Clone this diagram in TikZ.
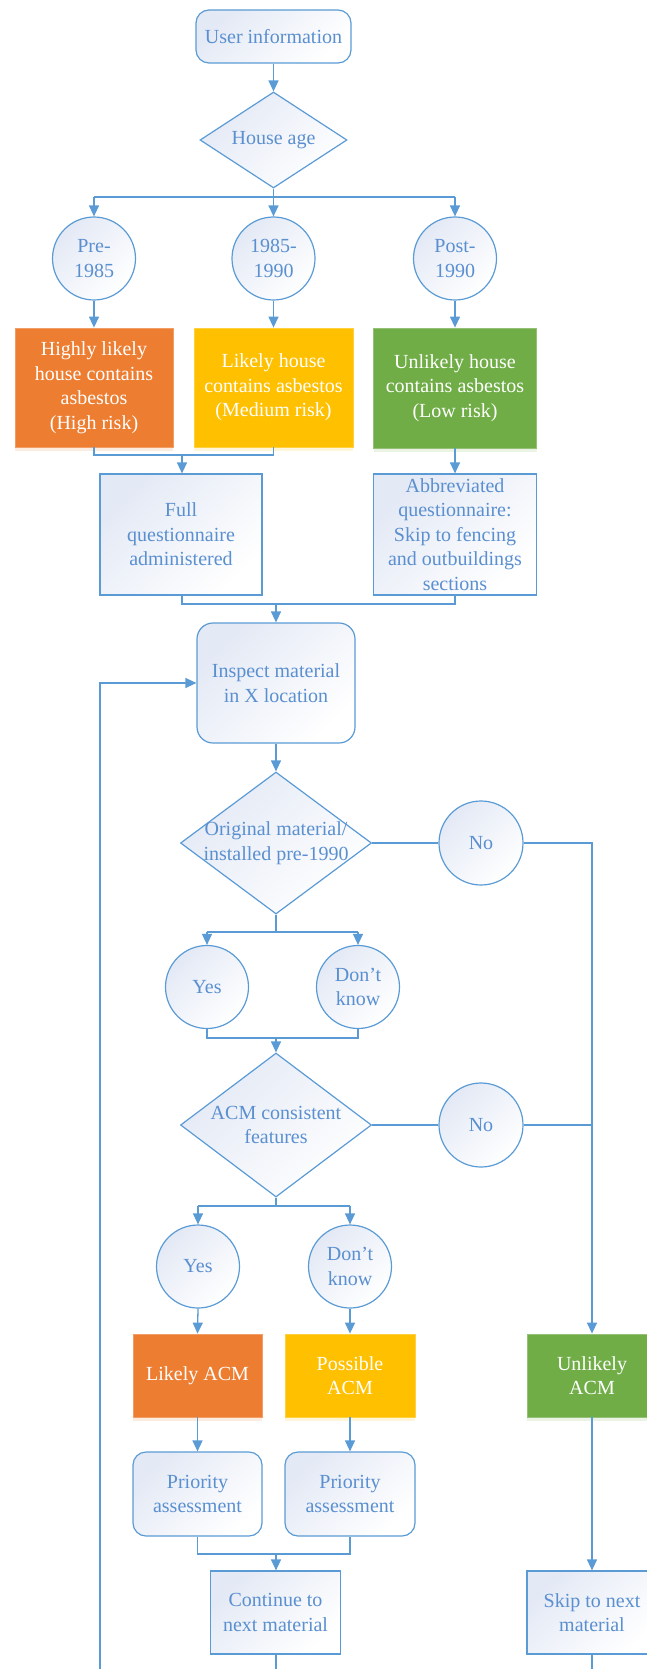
\documentclass[tikz,border=0pt]{standalone}
\usepackage{fontspec}
\setmainfont{Liberation Serif}
\usetikzlibrary{shapes.geometric,arrows.meta,shadows}
\definecolor{lineblue}{HTML}{5B9BD5}
\definecolor{textblue}{HTML}{5A8FD0}
\definecolor{gradc}{HTML}{E3E9F5}
\definecolor{corange}{HTML}{ED7D31}
\definecolor{cyellow}{HTML}{FFC000}
\definecolor{cgreen}{HTML}{70AD47}
\tikzset{
  txt/.style={font=\fontsize{20}{24.5}\selectfont, text=textblue, align=center},
  shadedfill/.style={top color=gradc, bottom color=white, shading angle=45},
  plainbox/.style={txt, draw=lineblue, line width=1.2pt, shadedfill, inner sep=2pt},
  roundbox/.style={plainbox, rounded corners=13pt},
  ellnode/.style={txt, circle, draw=lineblue, line width=1.2pt, shadedfill, minimum size=83pt, inner sep=0pt},
  dia/.style={diamond, draw=lineblue, line width=1.2pt, shadedfill, inner sep=0pt},
  colbox/.style={txt, text=white, draw=#1!75!white, line width=0.8pt, fill=#1, inner sep=2pt,
     drop shadow={shadow xshift=0pt, shadow yshift=-4pt, opacity=0.15, fill=#1}},
  conn/.style={draw=lineblue, line width=1.3pt},
  arr/.style={conn, -{Triangle[length=11pt,width=10pt]}},
}
\begin{document}
\begin{tikzpicture}[x=1pt,y=-1pt]
\useasboundingbox (0,0) rectangle (647,1669);
\clip (0,0) rectangle (647,1669);
% nodes
\node[roundbox, minimum width=155pt, minimum height=53pt] (user) at (273.5,36.5) {User information};
\node[dia, minimum width=147pt, minimum height=96pt, label={[txt]center:House age}] (age) at (273.5,140) {};
\node[ellnode] (pre) at (94,258.5) {Pre-\\1985};
\node[ellnode] (mid) at (273.5,258.5) {1985-\\1990};
\node[ellnode] (post) at (455,258.5) {Post-\\1990};
\node[colbox=corange, minimum width=158pt, minimum height=119pt] (high) at (94,387.5) {Highly likely\\house contains\\asbestos\\(High risk)};
\node[colbox=cyellow, minimum width=159pt, minimum height=119pt] (med) at (273.5,387.5) {Likely house\\contains asbestos\\(Medium risk)};
\node[colbox=cgreen, minimum width=163pt, minimum height=120pt] (low) at (455,388) {Unlikely house\\contains asbestos\\(Low risk)};
\node[plainbox, minimum width=162pt, minimum height=121pt] (full) at (181,534.5) {Full\\questionnaire\\administered};
\node[plainbox, minimum width=163pt, minimum height=121pt, inner sep=0pt] (abbr) at (455,534.5) {Abbreviated\\questionnaire:\\Skip to fencing\\and outbuildings\\sections};
\node[roundbox, rounded corners=16pt, minimum width=158pt, minimum height=120pt] (insp) at (276,683) {Inspect material\\in X location};
\node[dia, minimum width=191pt, minimum height=142pt, label={[txt]center:Original material/\\installed pre-1990}] (orig) at (276,843) {};
\node[ellnode, minimum size=84pt] (noa) at (481,843) {No};
\node[ellnode] (yesa) at (207,987) {Yes};
\node[ellnode] (dka) at (358,987) {Don’t\\know};
\node[dia, minimum width=191pt, minimum height=144pt, label={[txt]center:ACM consistent\\features}] (acm) at (276,1125) {};
\node[ellnode, minimum size=84pt] (nob) at (481,1125) {No};
\node[ellnode] (yesb) at (198,1266.5) {Yes};
\node[ellnode] (dkb) at (350,1266.5) {Don’t\\know};
\node[colbox=corange, minimum width=129pt, minimum height=83pt] (likely) at (197.5,1375.5) {Likely ACM};
\node[colbox=cyellow, minimum width=130pt, minimum height=83pt] (possible) at (350,1375.5) {Possible\\ACM};
\node[colbox=cgreen, minimum width=130pt, minimum height=83pt] (unlikely) at (592,1375.5) {Unlikely\\ACM};
\node[roundbox, minimum width=129pt, minimum height=84pt] (prioa) at (197.5,1494) {Priority\\assessment};
\node[roundbox, minimum width=130pt, minimum height=84pt] (priob) at (350,1494) {Priority\\assessment};
\node[plainbox, minimum width=130pt, minimum height=83pt] (cont) at (275.5,1612.5) {Continue to\\next material};
\node[plainbox, minimum width=130pt, minimum height=83pt] (skip) at (592,1612.5) {Skip to next\\material};
% helper coordinates
\coordinate (agejoin) at (273.5,197);
\coordinate (hmjoin) at (182,455);
\coordinate (fajoin) at (276,604);
\coordinate (origjoin) at (276,932);
\coordinate (yadjoin) at (276,1038);
\coordinate (acmjoin) at (276,1206);
\coordinate (priojoin) at (276,1554);
\coordinate (loopbot) at (100,1680);
% connectors
\draw[arr] (user.south) -- (age.north);
\draw[conn] (age.south) -- (agejoin);
\draw[conn] (pre.north |- agejoin) -- (post.north |- agejoin);
\draw[arr] (pre.north |- agejoin) -- (pre.north);
\draw[arr] (agejoin) -- (mid.north);
\draw[arr] (post.north |- agejoin) -- (post.north);
\draw[arr] (pre.south) -- (high.north);
\draw[arr] (mid.south) -- (med.north);
\draw[arr] (post.south) -- (low.north);
\draw[conn] (high.south) |- (hmjoin) -| (med.south);
\draw[arr] (hmjoin) -- (full.north -| hmjoin);
\draw[arr] (low.south) -- (abbr.north);
\draw[conn] (full.south -| hmjoin) |- (fajoin) -| (abbr.south);
\draw[arr] (fajoin) -- (insp.north);
\draw[arr] (insp.south) -- (orig.north);
\draw[conn] (orig.east) -- (noa.west);
\draw[arr] (noa.east) -| (unlikely.north);
\draw[conn] (orig.south) -- (origjoin);
\draw[conn] (yesa.north |- origjoin) -- (dka.north |- origjoin);
\draw[arr] (yesa.north |- origjoin) -- (yesa.north);
\draw[arr] (dka.north |- origjoin) -- (dka.north);
\draw[conn] (yesa.south) |- (yadjoin) -| (dka.south);
\draw[arr] (yadjoin) -- (acm.north);
\draw[conn] (acm.east) -- (nob.west);
\draw[conn] (nob.east) -- (nob.east -| unlikely.north);
\draw[conn] (acm.south) -- (acmjoin);
\draw[conn] (yesb.north |- acmjoin) -- (dkb.north |- acmjoin);
\draw[arr] (yesb.north |- acmjoin) -- (yesb.north);
\draw[arr] (dkb.north |- acmjoin) -- (dkb.north);
\draw[arr] (yesb.south) -- (likely.north);
\draw[arr] (dkb.south) -- (possible.north);
\draw[arr] (likely.south) -- (prioa.north);
\draw[arr] (possible.south) -- (priob.north);
\draw[conn] (prioa.south) |- (priojoin) -| (priob.south);
\draw[arr] (priojoin) -- (cont.north -| priojoin);
\draw[arr] (unlikely.south) -- (skip.north);
\draw[conn] (cont.south -| priojoin) -- (priojoin |- loopbot);
\draw[conn] (skip.south) -- (skip.south |- loopbot);
\draw[arr] (loopbot) |- (insp.west);
\end{tikzpicture}
\end{document}
